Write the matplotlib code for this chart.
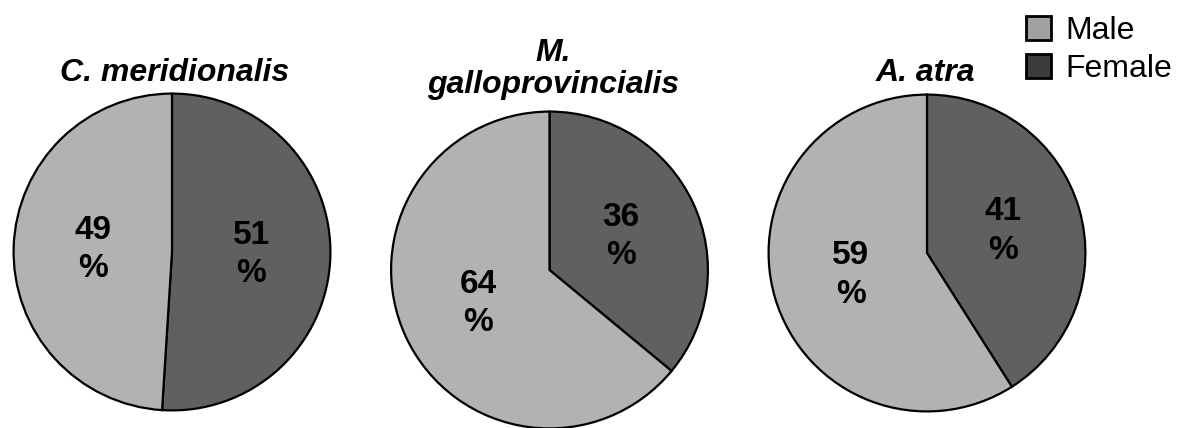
import matplotlib
matplotlib.use("Agg")
import matplotlib.pyplot as plt
from matplotlib.patches import Patch

plt.rcParams['font.family'] = ['Liberation Sans', 'DejaVu Sans']

# data
species = ["C. meridionalis", "M.\ngalloprovincialis", "A. atra"]
sexes = ["Male", "Female"]
male_pct = [49, 64, 59]
female_pct = [51, 36, 41]

pie_colors = ["#b2b2b2", "#606060"]
legend_colors = ["#a0a0a0", "#3c3c3c"]

W, H = 1184, 428
fig = plt.figure(figsize=(W / 100, H / 100), dpi=100)

# pie centres / radius in pixels
centres = [(172, 252), (549.5, 270), (927, 253)]
r = 160
title_pos = [(175, 73), (553, 69), (925, 73)]

for i, name in enumerate(species):
    cx, cy = centres[i]
    ax = fig.add_axes([(cx - r) / W, (H - cy - r) / H, 2 * r / W, 2 * r / H])
    # female first, clockwise from 12 o'clock
    vals = [female_pct[i], male_pct[i]]
    wedges, texts, autotexts = ax.pie(
        vals, colors=[pie_colors[1], pie_colors[0]], startangle=90, counterclock=False,
        autopct=lambda p: f"{round(p)}\n%", pctdistance=0.5,
        wedgeprops=dict(edgecolor="black", linewidth=1.6),
        textprops=dict(fontsize=24, fontweight="bold", color="black", linespacing=1.3))
    ax.set_xlim(-1.01, 1.01)
    ax.set_ylim(-1.01, 1.01)
    ax.set_aspect("equal")
    ax.axis("off")
    tx, ty = title_pos[i]
    fig.text(tx / W, 1 - ty / H, name, ha="center", va="center", fontsize=23,
             fontweight="bold", fontstyle="italic", linespacing=1.05)

handles = [Patch(facecolor=legend_colors[k], edgecolor="black", linewidth=2) for k in range(2)]
fig.legend(handles, sexes, loc="upper left", bbox_to_anchor=(1026 / W, 1 - 16 / H),
           frameon=False, fontsize=23, handlelength=0.78, handleheight=0.78,
           handletextpad=0.45, labelspacing=0.25, borderpad=0, borderaxespad=0)

fig.savefig("out.png", dpi=100)
